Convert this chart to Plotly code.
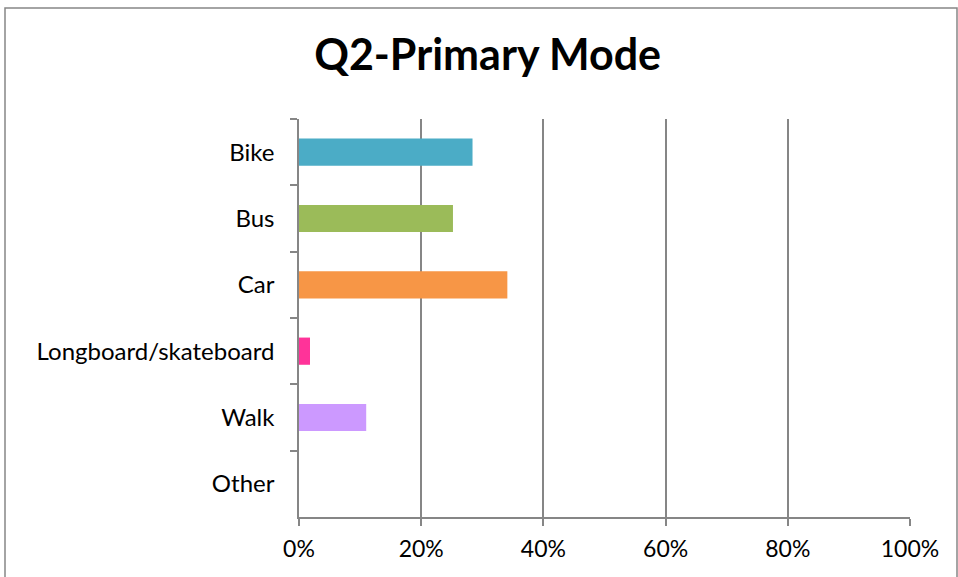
import plotly.graph_objects as go

categories = ["Bike", "Bus", "Car", "Longboard/skateboard", "Walk", "Other"]
values = [0.284, 0.252, 0.341, 0.018, 0.110, 0.0]
colors = ["#4BACC6", "#9BBB59", "#F79646", "#FF3399", "#CC99FF", "#7F7F7F"]
x_ticks = [0, 0.2, 0.4, 0.6, 0.8, 1.0]
x_tick_labels = ["0%", "20%", "40%", "60%", "80%", "100%"]

FONT = "Lato"

fig = go.Figure(go.Bar(
    y=categories, x=values, orientation="h",
    marker=dict(color=colors, line=dict(width=0)),
))

fig.update_layout(
    width=958, height=577,
    margin=dict(l=299, r=48, t=119, b=60),
    paper_bgcolor="white", plot_bgcolor="white",
    bargap=0.59,
    showlegend=False,
    font=dict(family=FONT, color="black", size=24),
    title=dict(text="<b>Q2-Primary Mode</b>", x=0.509, xref="container", xanchor="center",
               y=0.905, yref="container", yanchor="middle",
               font=dict(family=FONT, size=43, color="black")),
    xaxis=dict(range=[0, 1], tickvals=x_ticks, ticktext=x_tick_labels,
               showgrid=True, gridcolor="#868686", gridwidth=1.5,
               showline=True, linecolor="#868686", linewidth=1.5,
               ticks="outside", ticklen=7, tickcolor="#868686", tickwidth=1.5,
               zeroline=False, fixedrange=True, ticklabelstandoff=4,
               tickfont=dict(family=FONT, size=23)),
    yaxis=dict(autorange="reversed", type="category",
               showline=True, linecolor="#868686", linewidth=1.5,
               ticks="outside", ticklen=7, tickcolor="#868686", tickwidth=1.5,
               tickson="boundaries", showgrid=False, ticklabelstandoff=18,
               tickfont=dict(family=FONT, size=24)),
    shapes=[dict(type="rect", xref="paper", yref="paper",
                 x0=-294/611, x1=1 + 47/611, y0=-70/398, y1=1 + 111/398,
                 line=dict(color="#868686", width=1.5), fillcolor="rgba(0,0,0,0)",
                 layer="below")],
)

fig.write_html("out.html", config={"displayModeBar": False},
               post_script="document.body.style.margin='0';")
